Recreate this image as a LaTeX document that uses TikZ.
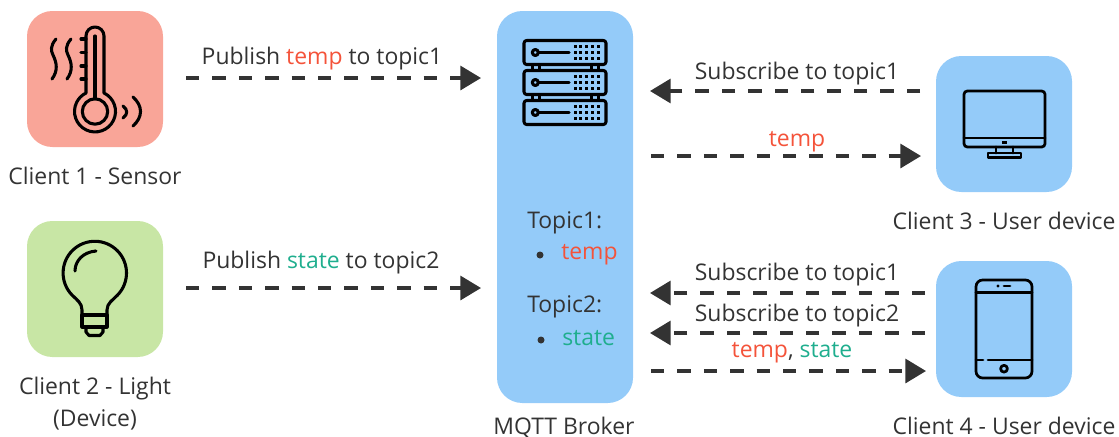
\documentclass[tikz,border=0pt]{standalone}
\usepackage{fontspec}
\setmainfont{Open Sans}
\usetikzlibrary{arrows.meta}
\definecolor{tempcol}{HTML}{F4533A}
\definecolor{statecol}{HTML}{1FAE8E}
\definecolor{inkcol}{HTML}{333333}
\definecolor{sensorcol}{HTML}{F9A598}
\definecolor{lightcol}{HTML}{C8E6A5}
\definecolor{devicecol}{HTML}{94CBF9}
\tikzset{
	box/.style={rounded corners=19pt,minimum width=102pt,minimum height=102pt,inner sep=0pt},
	label/.style={text=inkcol,font=\fontsize{17.2}{20}\selectfont,inner sep=0pt,text height=12.5pt,text depth=0pt},
	flow/.style={line width=2.5pt,draw=inkcol,dash pattern=on 10pt off 9.8pt,-{Triangle[length=15.5pt,width=18pt]}},
	icon/.style={line width=2.3pt,draw=black,line cap=round,line join=round},
	thin icon/.style={icon,line width=2.05pt},
}
\newcommand{\temptxt}{\textcolor{tempcol}{temp}}
\newcommand{\statetxt}{\textcolor{statecol}{state}}
\begin{document}
\begin{tikzpicture}[x=.75pt,y=-.75pt]
	\useasboundingbox (0,0) rectangle (1119,436);

	\node[box,fill=sensorcol] (client1) at (95,79) {};
	\node[box,fill=lightcol] (client2) at (95,289) {};
	\node[box,fill=devicecol,minimum height=294pt] (broker) at (565,207) {};
	\node[box,fill=devicecol] (client3) at (1004,124) {};
	\node[box,fill=devicecol] (client4) at (1004,329) {};

	\node[label] (client1txt) at (95,176) {Client 1 - Sensor};
	\node[label] (client2txt) at (95,386) {Client 2 - Light};
	\node[label] (client2sub) at (95,418) {(Device)};
	\node[label] (brokertxt) at (564,426) {MQTT Broker};
	\node[label] (client3txt) at (1004,221) {Client 3 - User device};
	\node[label] (client4txt) at (1004,426) {Client 4 - User device};

	\node[label,anchor=west] (topic1) at (527,220) {Topic1:};
	\node[label,anchor=west] (topic1val) at (561,251) {\temptxt};
	\fill[inkcol] (540,255) circle (3.5);
	\node[label,anchor=west] (topic2) at (527,304) {Topic2:};
	\node[label,anchor=west] (topic2val) at (562,337) {\statetxt};
	\fill[inkcol] (541,340) circle (3.5);

	\coordinate (pub1a) at (186,78);
	\coordinate (pub1b) at (481,78);
	\coordinate (pub2a) at (186,288);
	\coordinate (pub2b) at (481,288);
	\coordinate (sub3a) at (920,91);
	\coordinate (sub3b) at (650,91);
	\coordinate (get3a) at (651,156);
	\coordinate (get3b) at (921,156);
	\coordinate (sub4a) at (925,293);
	\coordinate (sub4b) at (650,293);
	\coordinate (sub5a) at (925,333);
	\coordinate (sub5b) at (650,333);
	\coordinate (get4a) at (651,371);
	\coordinate (get4b) at (926,371);

	\draw[flow] (pub1a) -- (pub1b);
	\draw[flow] (pub2a) -- (pub2b);
	\draw[flow] (sub3a) -- (sub3b);
	\draw[flow] (get3a) -- (get3b);
	\draw[flow] (sub4a) -- (sub4b);
	\draw[flow] (sub5a) -- (sub5b);
	\draw[flow] (get4a) -- (get4b);

	\node[label] (pub1txt) at (322,56) {Publish \temptxt{} to topic1};
	\node[label] (pub2txt) at (321,260) {Publish \statetxt{} to topic2};
	\node[label] (sub3txt) at (797,71) {Subscribe to topic1};
	\node[label] (get3txt) at (797,138) {\temptxt};
	\node[label] (sub4txt) at (797,272) {Subscribe to topic1};
	\node[label] (sub5txt) at (797,313) {Subscribe to topic2};
	\node[label] (get4txt) at (792,349) {\temptxt, \statetxt};

	% thermometer
	\draw[icon] (104,93) arc (-64:244:20.5) -- (86,36) arc (180:360:9) -- cycle;
	\draw[icon] (95,111.5) circle (12.7);
	\draw[icon] (95,36) -- (95,98.8);
	\foreach \y in {39,52.5,66,79}
		\draw[icon] (81,\y) -- (86,\y);
	\foreach \x in {56,71}
		\draw[icon] (\x,39) .. controls (\x-6,46) and (\x-5,51) .. (\x-3,55) .. controls (\x+1,63) and (\x+2,71) .. (\x-4,79);
	\draw[icon] (123,106) .. controls (128,110) and (128,114) .. (123,118);
	\draw[icon] (133,97) .. controls (143,106) and (143,117) .. (133,126);

	% bulb
	\draw[icon] (82,315) -- (82,310) .. controls (82,303) and (77,300) .. (72,295) arc (136:404:31.7) .. controls (113,300) and (107,303) .. (107,310) -- (107,315);
	\draw[icon] (82,315) -- (107,315) -- (107,327) -- (82,327) -- cycle;
	\draw[icon] (86,327) -- (86,332) -- (89,335.5) -- (100,335.5) -- (103,332) -- (103,327);
	\draw[icon] (75,271) .. controls (75,261) and (83,252) .. (96,251);

	% server
	\foreach \y in {52.5,82.5,112.5} {
		\draw[icon,rounded corners=2pt] (524,\y-12) rectangle (606,\y+12);
		\draw[icon] (535.3,\y) circle (3);
		\draw[icon] (538.3,\y) -- (569,\y);
		\foreach \i in {0,1,2,3,4}
			\foreach \j in {-1,0,1}
				\fill (573.5+\i*5.75,\y+\j*5.8-1.5) rectangle +(3,3);
	}
	\foreach \y in {64.5,94.5}
		\foreach \x in {532.3,539.3,591.7,598.3}
			\draw[icon,line cap=butt] (\x,\y) -- (\x,\y+6);

	% monitor
	\draw[thin icon,rounded corners=2.5pt] (964,91) rectangle (1045,147);
	\draw[thin icon] (964,138) -- (1045,138);
	\fill (1002,140.5) rectangle (1007,143.5);
	\draw[thin icon] (996,147) -- (996,153) (1013,147) -- (1013,153);
	\draw[thin icon] (988,153) rectangle (1021,157.5);

	% phone
	\draw[thin icon,rounded corners=5pt] (976,280) rectangle (1032,378);
	\draw[thin icon] (976,292.5) -- (1032,292.5);
	\fill (998,286) circle (1.6);
	\draw[thin icon] (1004,286) -- (1010,286);
	\draw[thin icon] (976,360) -- (983,360) (988,360) -- (1032,360);
	\draw[thin icon] (1004,368.7) circle (3.4);

\end{tikzpicture}
\end{document}
